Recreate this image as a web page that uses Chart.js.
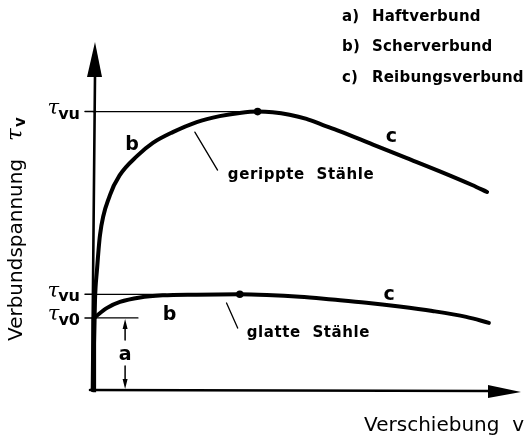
<!DOCTYPE html>
<html>
<head>
<meta charset="utf-8">
<script src="https://cdn.jsdelivr.net/npm/chart.js@4.4.1/dist/chart.umd.min.js"></script>
<style>
  html, body { margin: 0; padding: 0; background: #fff; }
  canvas { display: block; }
</style>
</head>
<body>
<canvas id="verbund" width="525" height="437"></canvas>
<script>
// Verschiebung v (schematisch, 0..10) und Verbundspannung (0..10)
const slipGerippt = [0, 0.047, 0.093, 0.163, 0.396, 0.629, 1.026, 1.399, 1.865, 2.424, 2.960, 3.427, 3.846, 4.196, 4.592, 4.988, 5.36, 5.758, 6.527, 7.319, 8.089, 8.858, 9.207];
const tauGerippt = [0, 2.59, 3.45, 4.45, 5.60, 6.18, 6.72, 7.10, 7.41, 7.70, 7.87, 7.96, 8.0, 7.98, 7.91, 7.79, 7.62, 7.44, 7.06, 6.67, 6.29, 5.89, 5.69];

const slipGlatt = [0.02, 0.33, 0.63, 1.10, 1.63, 2.42, 3.43, 4.06, 4.83, 5.59, 6.39, 7.16, 7.93, 8.72, 9.25];
const tauGlatt = [2.07, 2.36, 2.53, 2.66, 2.72, 2.74, 2.75, 2.73, 2.68, 2.60, 2.51, 2.40, 2.27, 2.10, 1.93];

// Kennwerte auf der Spannungsachse
const tauVuGerippt = 8.0;
const tauVuGlatt = 2.75;
const tauV0 = 2.07;
const slipPeakGerippt = 3.846;
const slipPeakGlatt = 3.43;

const tickValues = [tauVuGerippt, tauVuGlatt, tauV0];
const tickSubs = ['vu', 'vu', 'v0'];

const legendKeys = ['a)', 'b)', 'c)'];
const legendNames = ['Haftverbund', 'Scherverbund', 'Reibungsverbund'];

// Beschriftungen an den Kurven [x, y, text]
const curveLabels = [
  [0.91, 7.04, 'b'],
  [6.97, 7.27, 'c'],
  [1.79, 2.16, 'b'],
  [6.92, 2.73, 'c'],
];
const noteLabels = [
  [3.15, 6.18, 'gerippte  Stähle'],
  [3.59, 1.64, 'glatte  Stähle'],
];
const leaderGerippt = [[2.38, 7.41], [2.91, 6.32]];
const leaderGlatt = [[3.12, 2.50], [3.38, 1.78]];
const dimSlip = 0.75;

const toPts = (xs, ys) => xs.map((x, i) => ({ x: x, y: ys[i] }));
const FONT = '"DejaVu Sans", sans-serif';

function drawTau(ctx, x, y, sub, size) {
  // τ mit tiefgestelltem Index, rechtsbündig an x
  ctx.save();
  ctx.textBaseline = 'middle';
  ctx.textAlign = 'left';
  const subFont = 'bold ' + Math.round(size * 0.75) + 'px ' + FONT;
  const tauFont = 'italic ' + size + 'px "DejaVu Serif", serif';
  ctx.font = tauFont;
  const wT = ctx.measureText('τ').width;
  ctx.font = subFont;
  const wS = ctx.measureText(sub).width;
  ctx.font = tauFont;
  ctx.fillText('τ', x - wS - wT + 1, y - 3);
  ctx.font = subFont;
  ctx.fillText(sub, x - wS, y + 3);
  ctx.restore();
}

const diagramPlugin = {
  id: 'diagram',
  afterDatasetsDraw(chart) {
    const ctx = chart.ctx;
    const xs = chart.scales.x;
    const ys = chart.scales.y;
    const px = v => xs.getPixelForValue(v);
    const py = v => ys.getPixelForValue(v);
    ctx.save();
    ctx.fillStyle = '#000';
    ctx.strokeStyle = '#000';
    ctx.lineCap = 'round';

    // Achsen mit Pfeilspitzen
    const x0 = px(0), y0 = py(0);
    ctx.lineWidth = 2.6;
    ctx.beginPath();
    ctx.moveTo(x0 - 1, y0);
    ctx.lineTo(x0 + 2, py(10) + 34);
    ctx.moveTo(x0 - 3, y0);
    ctx.lineTo(px(10) - 32, y0 + 1);
    ctx.stroke();
    ctx.beginPath();
    ctx.moveTo(x0 + 2, py(10));
    ctx.lineTo(x0 - 6, py(10) + 35);
    ctx.lineTo(x0 + 9, py(10) + 35);
    ctx.closePath();
    ctx.fill();
    ctx.beginPath();
    ctx.moveTo(px(10), y0 + 2);
    ctx.lineTo(px(10) - 33, y0 - 5);
    ctx.lineTo(px(10) - 33, y0 + 8);
    ctx.closePath();
    ctx.fill();

    // Teilstriche und τ-Beschriftung
    ctx.lineWidth = 1.5;
    tickValues.forEach((v, i) => {
      ctx.beginPath();
      ctx.moveTo(x0 - 8, py(v));
      ctx.lineTo(x0 + 3, py(v));
      ctx.stroke();
      drawTau(ctx, x0 - 13, py(v), tickSubs[i], 21);
    });

    // Bemaßungspfeil a
    const xa = px(dimSlip);
    const ya0 = py(tauV0), ya1 = y0;
    ctx.lineWidth = 1.5;
    ctx.beginPath();
    ctx.moveTo(xa, ya0 + 8); ctx.lineTo(xa, ya0 + 22);
    ctx.moveTo(xa, ya1 - 8); ctx.lineTo(xa, ya1 - 24);
    ctx.stroke();
    ctx.beginPath();
    ctx.moveTo(xa, ya0 + 1); ctx.lineTo(xa - 2.5, ya0 + 11); ctx.lineTo(xa + 2.5, ya0 + 11); ctx.closePath();
    ctx.moveTo(xa, ya1 - 1); ctx.lineTo(xa - 2.5, ya1 - 11); ctx.lineTo(xa + 2.5, ya1 - 11); ctx.closePath();
    ctx.fill();

    ctx.textBaseline = 'middle';
    ctx.textAlign = 'center';
    ctx.font = 'bold 19px ' + FONT;
    ctx.fillText('a', xa, py(1.0));
    curveLabels.forEach(l => ctx.fillText(l[2], px(l[0]), py(l[1])));

    ctx.textAlign = 'left';
    ctx.font = 'bold 15px ' + FONT;
    ctx.letterSpacing = '0.6px';
    noteLabels.forEach(l => ctx.fillText(l[2], px(l[0]), py(l[1])));

    // Legende oben rechts
    ctx.letterSpacing = '0.2px';
    legendKeys.forEach((k, i) => {
      ctx.fillText(k, 342, 17 + i * 30.5);
      ctx.fillText(legendNames[i], 372, 17 + i * 30.5);
    });

    // Achsentitel
    ctx.textAlign = 'right';
    ctx.font = '20px ' + FONT;
    ctx.letterSpacing = '0px';
    ctx.fillText('Verschiebung  v', 524, 426);

    ctx.translate(17, 0);
    ctx.rotate(-Math.PI / 2);
    ctx.textAlign = 'left';
    ctx.fillText('Verbundspannung', -341, 0);
    ctx.font = 'italic 23px "DejaVu Serif", serif';
    ctx.fillText('τ', -141, -1);
    ctx.font = 'bold 15px ' + FONT;
    ctx.fillText('v', -127, 4);
    ctx.restore();
  }
};

const thin = { borderColor: '#000', borderWidth: 1.3, pointRadius: 0, showLine: true, tension: 0 };

new Chart(document.getElementById('verbund'), {
  type: 'scatter',
  data: {
    datasets: [
      { label: 'gerippte Stähle', data: toPts(slipGerippt, tauGerippt), showLine: true,
        borderColor: '#000', borderWidth: 4, pointRadius: 0, cubicInterpolationMode: 'monotone' },
      { label: 'Haftverbund', data: [{ x: 0, y: 0 }, { x: 0.02, y: tauV0 }], showLine: true,
        borderColor: '#000', borderWidth: 4.5, pointRadius: 0 },
      { label: 'glatte Stähle', data: toPts(slipGlatt, tauGlatt), showLine: true,
        borderColor: '#000', borderWidth: 4, pointRadius: 0, cubicInterpolationMode: 'monotone' },
      Object.assign({ label: 'τvu gerippt', data: [{ x: 0, y: tauVuGerippt }, { x: slipPeakGerippt, y: tauVuGerippt }] }, thin),
      Object.assign({ label: 'τvu glatt', data: [{ x: 0, y: tauVuGlatt }, { x: 1.7, y: tauVuGlatt }] }, thin),
      Object.assign({ label: 'τv0', data: [{ x: 0, y: tauV0 }, { x: 1.05, y: tauV0 }] }, thin),
      Object.assign({ label: 'Hinweis gerippt', data: leaderGerippt.map(p => ({ x: p[0], y: p[1] })) }, thin),
      Object.assign({ label: 'Hinweis glatt', data: leaderGlatt.map(p => ({ x: p[0], y: p[1] })) }, thin),
      { label: 'Maxima', data: [{ x: slipPeakGerippt, y: tauVuGerippt }, { x: slipPeakGlatt, y: tauVuGlatt }],
        pointRadius: 3.8, pointBackgroundColor: '#000', pointBorderWidth: 0, showLine: false }
    ]
  },
  options: {
    responsive: false,
    animation: false,
    devicePixelRatio: 1,
    layout: { padding: { left: 93, top: 42, right: 3, bottom: 47 } },
    scales: {
      x: { type: 'linear', min: 0, max: 10, display: false },
      y: { type: 'linear', min: 0, max: 10, display: false }
    },
    plugins: { legend: { display: false }, tooltip: { enabled: false } },
    elements: { line: { borderCapStyle: 'round' } },
    datasets: { scatter: { clip: false } }
  },
  plugins: [diagramPlugin]
});
</script>
</body>
</html>
